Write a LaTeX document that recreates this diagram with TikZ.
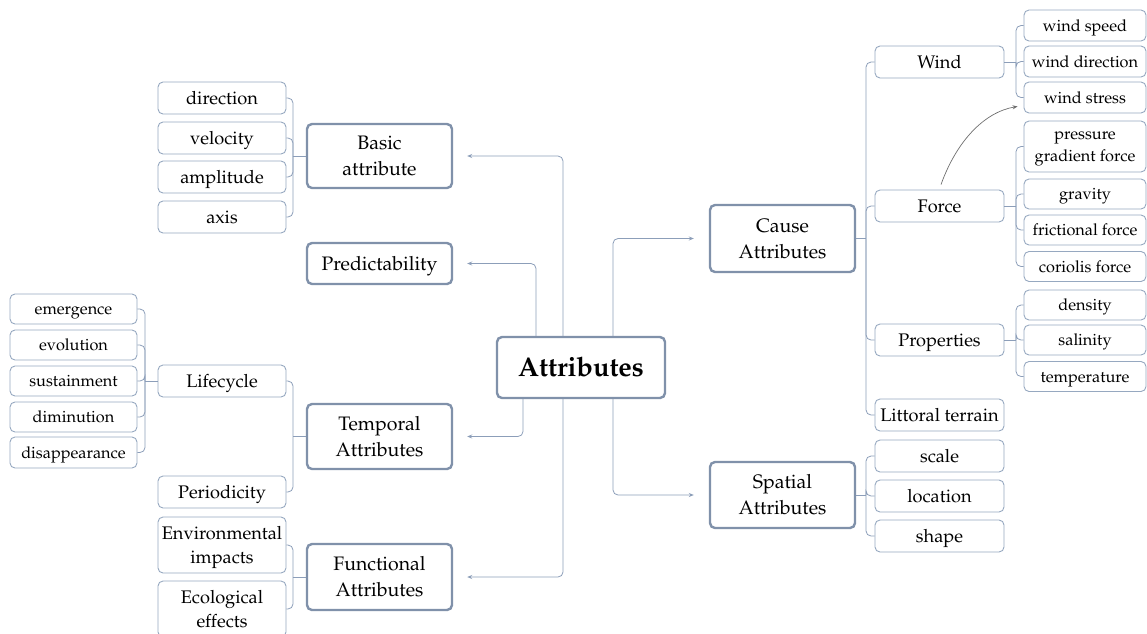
\documentclass[tikz,border=0pt]{standalone}
\usepackage[T1]{fontenc}
\usepackage{mathpazo}
\usetikzlibrary{arrows.meta}
\definecolor{mainc}{RGB}{128,145,170}
\definecolor{childc}{RGB}{150,168,192}
\definecolor{connc}{RGB}{140,158,185}
\definecolor{curvc}{RGB}{110,110,110}
\begin{document}
\begin{tikzpicture}[x=1pt,y=-1pt,
  mainbox/.style={draw=mainc, line width=2.4pt, rounded corners=5pt, fill=white, align=center, inner sep=0pt,
    font=\fontsize{19.5}{26}\selectfont, minimum width=145},
  midbox/.style={draw=childc, line width=0.9pt, rounded corners=5pt, fill=white, align=center, inner sep=0pt,
    font=\fontsize{18.2}{24}\selectfont},
  leafbox/.style={draw=childc, line width=0.9pt, rounded corners=5pt, fill=white, align=center, inner sep=0pt,
    font=\fontsize{16.3}{21.5}\selectfont},
  onemain/.style={text height=13.4pt, text depth=0pt},
  onemid/.style={text height=12.5pt, text depth=0pt},
  oneleaf/.style={text height=11.2pt, text depth=0pt},
  lw/.style={minimum width=128},
  rw/.style={minimum width=129},
  rrw/.style={minimum width=122},
  llw/.style={minimum width=127},
  conn/.style={draw=connc, line width=0.8pt, rounded corners=5pt},
  arr/.style={draw=connc, line width=0.8pt, rounded corners=5pt, -{Stealth[length=5pt,width=4pt]}},
  curvarr/.style={draw=curvc, line width=0.7pt, -{Stealth[length=5pt,width=4pt]}}
]
\useasboundingbox (0,0) rectangle (1147,633);

% centre
\node[draw=mainc, line width=2.4pt, rounded corners=5pt, fill=white, inner sep=0pt,
  minimum width=168, minimum height=61, text height=18.6pt, text depth=0pt,
  font=\fontsize{27}{30}\selectfont\bfseries] (attr) at (581,367.5) {Attributes};

% main categories
\node[mainbox, minimum height=64] (basic) at (379.5,156) {Basic\\attribute};
\node[mainbox, onemain, minimum height=41] (pred) at (379.5,263.5) {Predictability};
\node[mainbox, minimum height=65] (temp) at (379.5,436.5) {Temporal\\Attributes};
\node[mainbox, minimum height=66] (func) at (379.5,577) {Functional\\Attributes};
\node[mainbox, minimum height=67] (cause) at (782.5,238.5) {Cause\\Attributes};
\node[mainbox, minimum height=66] (spat) at (782.5,495) {Spatial\\Attributes};

% basic children
\node[midbox, onemid, lw, minimum height=32] (dir) at (222,98) {direction};
\node[midbox, onemid, lw, minimum height=32] (vel) at (222,138) {velocity};
\node[midbox, onemid, lw, minimum height=32] (amp) at (222,177) {amplitude};
\node[midbox, onemid, lw, minimum height=32] (axis) at (222,217) {axis};

% temporal children
\node[midbox, onemid, lw, minimum height=32] (life) at (222,381) {Lifecycle};
\node[midbox, onemid, lw, minimum height=32] (peri) at (222,492) {Periodicity};

% lifecycle children
\node[leafbox, oneleaf, llw, minimum height=30] (emer) at (73.5,309) {emergence};
\node[leafbox, oneleaf, llw, minimum height=30] (evol) at (73.5,345) {evolution};
\node[leafbox, oneleaf, llw, minimum height=30] (sust) at (73.5,381) {sustainment};
\node[leafbox, oneleaf, llw, minimum height=30] (dimi) at (73.5,417) {diminution};
\node[leafbox, oneleaf, llw, minimum height=31] (disa) at (73.5,452.5) {disappearance};

% functional children
\node[midbox, lw, minimum height=56] (env) at (222,545) {Environmental\\\smash{impacts}};
\node[midbox, lw, minimum height=56] (eco) at (222,609) {Ecological\\effects};

% cause children
\node[midbox, onemid, rw, minimum height=32] (wind) at (939.5,62) {Wind};
\node[midbox, onemid, rw, minimum height=32] (force) at (939.5,206) {Force};
\node[midbox, onemid, rw, minimum height=32] (prop) at (939.5,340) {Properties};
\node[midbox, onemid, rw, minimum height=32] (litt) at (939.5,415) {Littoral terrain};

% spatial children
\node[midbox, onemid, rw, minimum height=32] (scale) at (939.5,456) {scale};
\node[midbox, onemid, rw, minimum height=32] (loc) at (939.5,496) {location};
\node[midbox, onemid, rw, minimum height=32] (shape) at (939.5,536) {shape};

% wind children
\node[leafbox, oneleaf, rrw, minimum height=31] (wspd) at (1085,25.5) {wind speed};
\node[leafbox, oneleaf, rrw, minimum height=31] (wdir) at (1085,61.5) {wind direction};
\node[leafbox, oneleaf, rrw, minimum height=31] (wstr) at (1085,97.5) {wind stress};

% force children
\node[leafbox, rrw, minimum height=51] (pgf) at (1085,146.5) {pressure\\\smash{gradient force}};
\node[leafbox, oneleaf, rrw, minimum height=30] (grav) at (1085,194) {gravity};
\node[leafbox, oneleaf, rrw, minimum height=30] (fric) at (1085,230) {frictional force};
\node[leafbox, oneleaf, rrw, minimum height=30] (cori) at (1085,266.5) {coriolis force};

% properties children
\node[leafbox, oneleaf, rrw, minimum height=30] (dens) at (1085,305) {density};
\node[leafbox, oneleaf, rrw, minimum height=30] (sali) at (1085,340) {salinity};
\node[leafbox, oneleaf, rrw, minimum height=30] (tempr) at (1085,376.5) {temperature};

% arrows from the centre
\coordinate (xB) at (563,0);
\coordinate (xP) at (536,0);
\coordinate (xT) at (523,0);
\coordinate (xC) at (613,0);
\draw[arr] (attr.north -| xB) |- ([xshift=14pt]basic.east);
\draw[arr] (attr.north -| xP) |- ([xshift=14pt]pred.east);
\draw[arr] (attr.north -| xC) |- ([xshift=-15pt]cause.west);
\draw[arr] (attr.south -| xT) |- ([xshift=14pt]temp.east);
\draw[arr] (attr.south -| xC) |- ([xshift=-15pt]spat.west);
\draw[arr] (attr.south -| xB) |- ([xshift=14pt]func.east);

% brackets (left side)
\coordinate (bB) at (293,156);
\draw[conn] (basic.west) -- (bB);
\foreach \c in {dir,vel,amp,axis} \draw[conn] (bB) |- (\c.east);
\coordinate (bT) at (293,436.5);
\draw[conn] (temp.west) -- (bT);
\foreach \c in {life,peri} \draw[conn] (bT) |- (\c.east);
\coordinate (bL) at (145,381);
\draw[conn] (life.west) -- (bL);
\foreach \c in {emer,evol,sust,dimi,disa} \draw[conn] (bL) |- (\c.east);
\coordinate (bF) at (293,577);
\draw[conn] (func.west) -- (bF);
\foreach \c in {env,eco} \draw[conn] (bF) |- (\c.east);

% brackets (right side)
\coordinate (bC) at (866,238.5);
\draw[conn] (cause.east) -- (bC);
\foreach \c in {wind,force,prop,litt} \draw[conn] (bC) |- (\c.west);
\coordinate (bS) at (866,495);
\draw[conn] (spat.east) -- (bS);
\foreach \c in {scale,loc,shape} \draw[conn] (bS) |- (\c.west);
\coordinate (bW) at (1016,62);
\draw[conn] (wind.east) -- (bW);
\foreach \c in {wspd,wdir,wstr} \draw[conn] (bW) |- (\c.west);
\coordinate (bFo) at (1016,206);
\draw[conn] (force.east) -- (bFo);
\foreach \c in {pgf,grav,fric,cori} \draw[conn] (bFo) |- (\c.west);
\coordinate (bPr) at (1016,340);
\draw[conn] (prop.east) -- (bPr);
\foreach \c in {dens,sali,tempr} \draw[conn] (bPr) |- (\c.west);

% curved arrow
\draw[curvarr] ([xshift=1.5pt,yshift=5pt]force.north) .. controls (957,140) and (985,112) .. ([xshift=-6pt,yshift=7pt]wstr.south west);
\end{tikzpicture}
\end{document}
